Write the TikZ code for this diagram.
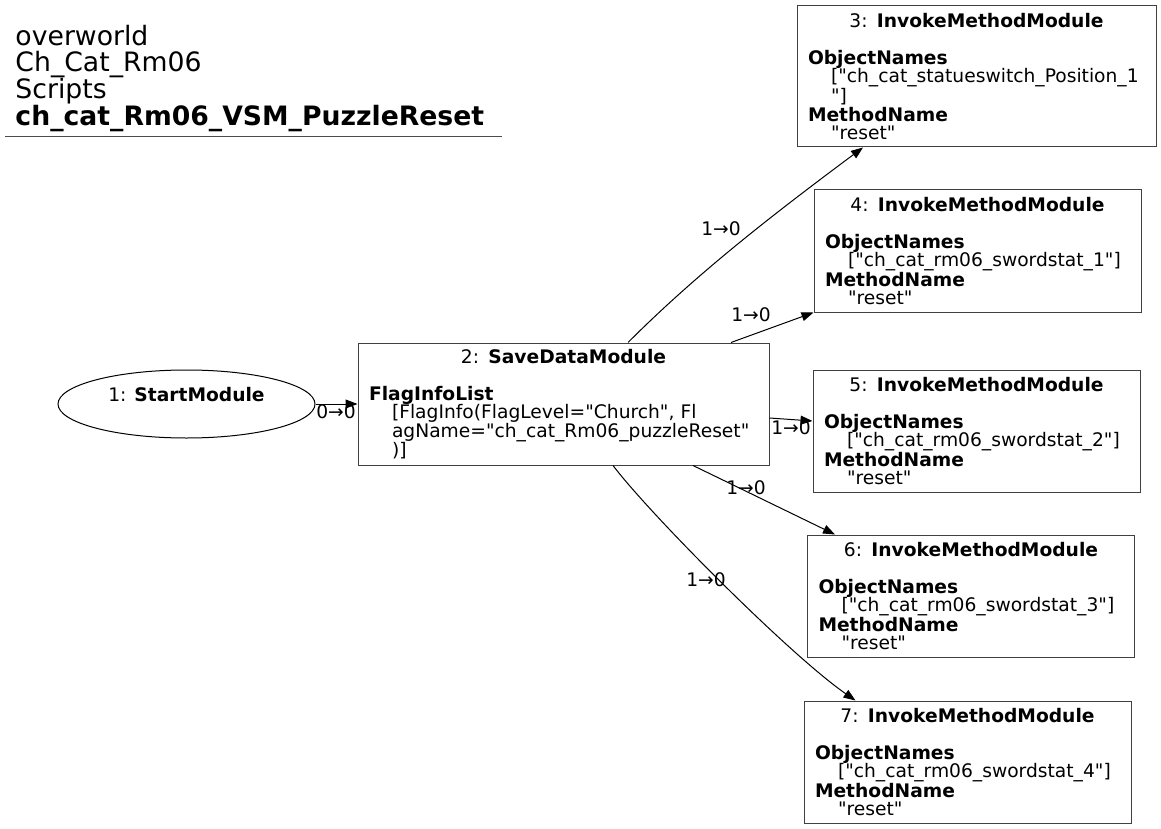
\documentclass[tikz,border=0pt]{standalone}
\usepackage{fontspec}
\newfontfamily\dejavu{DejaVu Sans}
\usetikzlibrary{arrows.meta,%
                shapes.geometric}

\newcommand{\nodesize}{\dejavu\fontsize{18.67pt}{18.5pt}\selectfont}
\newcommand{\titlesize}{\dejavu\fontsize{26.67pt}{26.7pt}\selectfont}
\newcommand{\modtitle}[2]{\makebox[\linewidth][c]{#1: \textbf{#2}}}
\newcommand{\field}[1]{\makebox[\linewidth][l]{\textbf{#1}}}
\newcommand{\fieldval}[1]{\makebox[\linewidth][l]{\hspace*{23pt}#1}}

\begin{document}
\begin{tikzpicture}[x=1pt, y=-1pt,
module/.style={rectangle, draw=black!75, align=center, font=\nodesize,
inner xsep=11pt, inner ysep=0pt},
%
invoke/.style={module, text width=305pt, minimum height=122pt},
%
startmod/.style={draw=black, ellipse, align=center, font=\nodesize,
minimum width=257pt, minimum height=68pt, inner sep=0pt},
%
edgelabel/.style={font=\nodesize, inner sep=0pt},
%
flow/.style={-{Triangle[length=12pt, width=9pt]}, black}]

\tikzset{every path/.style={line width=1pt}}

\useasboundingbox (0,0) rectangle (1161,829);

% title
\node[anchor=base west, align=left, font=\titlesize, inner sep=0pt] (title) at (15,125.3)
  {overworld\\Ch\_Cat\_Rm06\\Scripts\\\textbf{ch\_cat\_Rm06\_VSM\_PuzzleReset}};
\draw[black!70] (5,137) -- (502,137);

% modules
\node[startmod] (start) at (186.5,404) {1: \textbf{StartModule}\\~};

\node[module, text width=389pt, minimum height=122pt] (savedata) at (563.5,404)
  {\modtitle{2}{SaveDataModule}\\[18.5pt]
   \field{FlagInfoList}\\
   \fieldval{[FlagInfo(FlagLevel="Church", Fl}\\
   \fieldval{agName="ch\_cat\_Rm06\_puzzleReset"}\\
   \fieldval{)]}};

\node[module, text width=337pt, minimum height=141pt] (invoke3) at (976.5,76.5)
  {\modtitle{3}{InvokeMethodModule}\\[18.5pt]
   \field{ObjectNames}\\
   \fieldval{["ch\_cat\_statueswitch\_Position\_1}\\
   \fieldval{"]}\\
   \field{MethodName}\\
   \fieldval{"reset"}};

\node[invoke] (invoke4) at (977.5,251)
  {\modtitle{4}{InvokeMethodModule}\\[18.5pt]
   \field{ObjectNames}\\
   \fieldval{["ch\_cat\_rm06\_swordstat\_1"]}\\
   \field{MethodName}\\
   \fieldval{"reset"}};

\node[invoke] (invoke5) at (976.5,431)
  {\modtitle{5}{InvokeMethodModule}\\[18.5pt]
   \field{ObjectNames}\\
   \fieldval{["ch\_cat\_rm06\_swordstat\_2"]}\\
   \field{MethodName}\\
   \fieldval{"reset"}};

\node[invoke] (invoke6) at (971,596)
  {\modtitle{6}{InvokeMethodModule}\\[18.5pt]
   \field{ObjectNames}\\
   \fieldval{["ch\_cat\_rm06\_swordstat\_3"]}\\
   \field{MethodName}\\
   \fieldval{"reset"}};

\node[invoke] (invoke7) at (967.5,762)
  {\modtitle{7}{InvokeMethodModule}\\[18.5pt]
   \field{ObjectNames}\\
   \fieldval{["ch\_cat\_rm06\_swordstat\_4"]}\\
   \field{MethodName}\\
   \fieldval{"reset"}};

% connectors
\draw[flow] (start) -- (savedata);
\draw[flow] ([xshift=64.5pt]savedata.north) .. controls +(70,-70) and +(-90,67) .. ([xshift=-113.5pt]invoke3.south);
\draw[flow] ([xshift=167.5pt]savedata.north) -- (invoke4.south west);
\draw[flow] ([yshift=-14pt]savedata.east) -- ([yshift=10pt]invoke5.west);
\draw[flow] ([xshift=129.5pt]savedata.south) -- ([xshift=28pt]invoke6.north west);
\draw[flow] ([xshift=49.5pt]savedata.south) .. controls +(38,50) and +(-65,-45) .. ([xshift=52pt]invoke7.north west);

% connector labels
\node[edgelabel] (l12) at (336,412) {0→0};
\node[edgelabel] (l23) at (721,229) {1→0};
\node[edgelabel] (l24) at (751,315) {1→0};
\node[edgelabel] (l25) at (791,428) {1→0};
\node[edgelabel] (l26) at (746,488) {1→0};
\node[edgelabel] (l27) at (706,580) {1→0};

\end{tikzpicture}
\end{document}
